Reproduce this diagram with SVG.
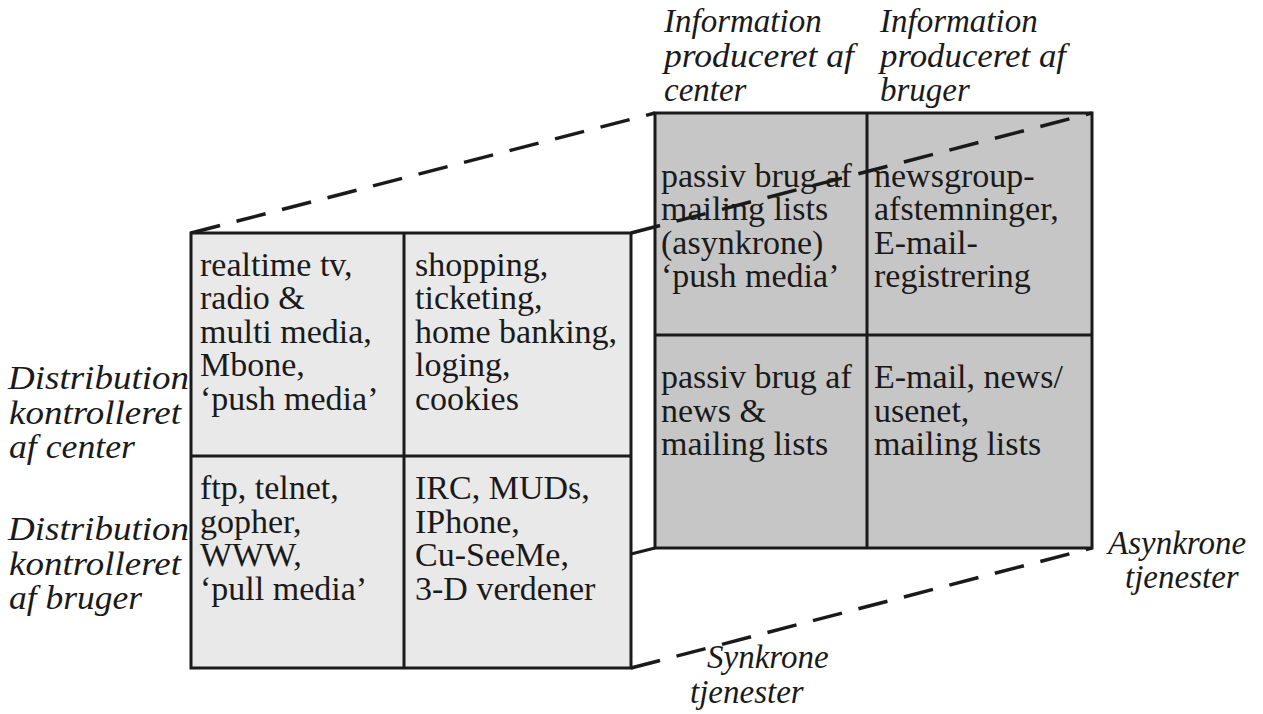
<svg xmlns="http://www.w3.org/2000/svg" width="1263" height="714" viewBox="0 0 1263 714">
<style>
.cell{font-family:"Liberation Serif","Times New Roman",serif;font-size:34px;fill:#1a1a1a}
.lbl{font-family:"Liberation Serif","Times New Roman",serif;font-style:italic;font-size:33px;fill:#1a1a1a}
.box{stroke:#1a1a1a;stroke-width:3}
.front{fill:#e9e9e9}
.back{fill:#c6c6c6}
.dash{stroke:#1a1a1a;stroke-width:3.5;fill:none;stroke-dasharray:30 17}
.solid{stroke:#1a1a1a;stroke-width:3;fill:none}
</style>
<rect width="1263" height="714" fill="#ffffff"/>
<g id="connectors-back">
<path class="dash" d="M191,233 L655,113"/>
<path class="dash" d="M631,668 L1092,548"/>
<path class="solid" d="M631,554 L655,548"/>
</g>
<g id="back-box">
<rect class="box back" x="655" y="113" width="437" height="435"/>
<line class="box" x1="867" y1="113" x2="867" y2="548"/>
<line class="box" x1="655" y1="335" x2="1092" y2="335"/>
</g>
<g id="back-cell-1">
<text class="cell" x="661" y="187">passiv brug af</text>
<text class="cell" x="661" y="220">mailing lists</text>
<text class="cell" x="661" y="254">(asynkrone)</text>
<text class="cell" x="661" y="287">‘push media’</text>
</g>
<g id="back-cell-2">
<text class="cell" x="874" y="187">newsgroup-</text>
<text class="cell" x="874" y="220">afstemninger,</text>
<text class="cell" x="874" y="254">E-mail-</text>
<text class="cell" x="874" y="287">registrering</text>
</g>
<g id="back-cell-3">
<text class="cell" x="661" y="388">passiv brug af</text>
<text class="cell" x="661" y="422">news &amp;</text>
<text class="cell" x="661" y="455">mailing lists</text>
</g>
<g id="back-cell-4">
<text class="cell" x="874" y="388">E-mail, news/</text>
<text class="cell" x="874" y="422">usenet,</text>
<text class="cell" x="874" y="455">mailing lists</text>
</g>
<g id="connectors-front">
<path class="dash" d="M631,233 L1092,113"/>
</g>
<g id="front-box">
<rect class="box front" x="191" y="233" width="440" height="435"/>
<line class="box" x1="404" y1="233" x2="404" y2="668"/>
<line class="box" x1="191" y1="456" x2="631" y2="456"/>
</g>
<g id="front-cell-1">
<text class="cell" x="200" y="276">realtime tv,</text>
<text class="cell" x="200" y="309">radio &amp;</text>
<text class="cell" x="200" y="343">multi media,</text>
<text class="cell" x="200" y="376">Mbone,</text>
<text class="cell" x="200" y="410">‘push media’</text>
</g>
<g id="front-cell-2">
<text class="cell" x="415" y="276">shopping,</text>
<text class="cell" x="415" y="309">ticketing,</text>
<text class="cell" x="415" y="343">home banking,</text>
<text class="cell" x="415" y="376">loging,</text>
<text class="cell" x="415" y="410">cookies</text>
</g>
<g id="front-cell-3">
<text class="cell" x="200" y="499">ftp, telnet,</text>
<text class="cell" x="200" y="533">gopher,</text>
<text class="cell" x="200" y="566">WWW,</text>
<text class="cell" x="200" y="600">‘pull media’</text>
</g>
<g id="front-cell-4">
<text class="cell" x="415" y="499">IRC, MUDs,</text>
<text class="cell" x="415" y="533">IPhone,</text>
<text class="cell" x="415" y="566">Cu-SeeMe,</text>
<text class="cell" x="415" y="600">3-D verdener</text>
</g>
<g id="label-info-center">
<text class="lbl" x="664" y="32">Information</text>
<text class="lbl" x="664" y="67" textLength="190" lengthAdjust="spacingAndGlyphs">produceret af</text>
<text class="lbl" x="664" y="101">center</text>
</g>
<g id="label-info-bruger">
<text class="lbl" x="880" y="32">Information</text>
<text class="lbl" x="880" y="67" textLength="186" lengthAdjust="spacingAndGlyphs">produceret af</text>
<text class="lbl" x="880" y="101">bruger</text>
</g>
<g id="label-dist-center">
<text class="lbl" x="8" y="389" textLength="181" lengthAdjust="spacingAndGlyphs">Distribution</text>
<text class="lbl" x="9" y="424" textLength="172" lengthAdjust="spacingAndGlyphs">kontrolleret</text>
<text class="lbl" x="9" y="458" textLength="126" lengthAdjust="spacingAndGlyphs">af center</text>
</g>
<g id="label-dist-bruger">
<text class="lbl" x="8" y="540" textLength="181" lengthAdjust="spacingAndGlyphs">Distribution</text>
<text class="lbl" x="9" y="575" textLength="172" lengthAdjust="spacingAndGlyphs">kontrolleret</text>
<text class="lbl" x="9" y="609" textLength="133" lengthAdjust="spacingAndGlyphs">af bruger</text>
</g>
<g id="label-asynkrone">
<text class="lbl" x="1108" y="554">Asynkrone</text>
<text class="lbl" x="1125" y="588">tjenester</text>
</g>
<g id="label-synkrone">
<text class="lbl" x="707" y="668">Synkrone</text>
<text class="lbl" x="690" y="703">tjenester</text>
</g>
</svg>
